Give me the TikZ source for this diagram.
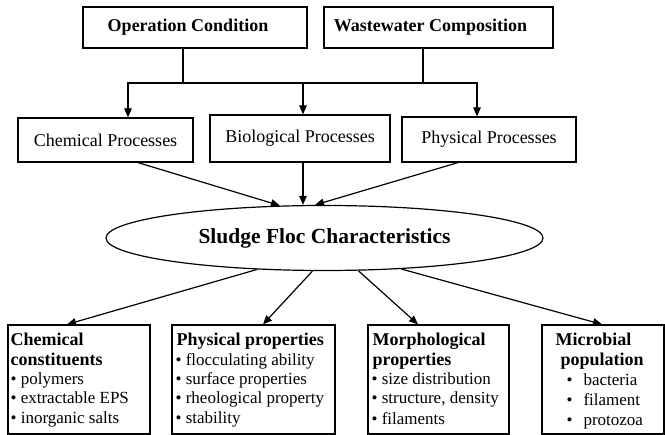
\documentclass[tikz,border=0pt]{standalone}
\usepackage{fontspec}
\setmainfont{Liberation Serif}
\usetikzlibrary{arrows.meta,shapes.geometric}
\begin{document}
\begin{tikzpicture}[x=1pt,y=-1pt,
  line width=1.2pt,
  box/.style={draw, rectangle, inner sep=0pt, fill=white},
  topbox/.style={box, font=\fontsize{18}{20}\selectfont\bfseries, minimum height=41pt},
  procbox/.style={box, font=\fontsize{18}{20}\selectfont},
  propbox/.style={box, minimum height=109pt},
  arr/.style={-{Triangle[length=9pt,width=7.5pt]}},
  head/.style={font=\fontsize{18}{20}\selectfont\bfseries, anchor=base west, inner sep=0pt},
  item/.style={font=\fontsize{17}{19}\selectfont, anchor=base west, inner sep=0pt},
]
\useasboundingbox (0,0) rectangle (665,435);

% driving factors
\node[topbox, minimum width=224pt] (op) at (195,27.5) {Operation Condition\hspace*{14pt}};
\node[topbox, minimum width=229pt] (ww) at (438.5,27.5) {Wastewater Composition\hspace*{16pt}};

% processes
\node[procbox, minimum width=175pt, minimum height=44pt] (chem) at (105.5,140) {Chemical Processes};
\node[procbox, minimum width=180pt, minimum height=47pt] (bio) at (300,138.5) {Biological Processes};
\node[procbox, minimum width=174pt, minimum height=45pt] (phys) at (489,139.5) {Physical Processes};

% central ellipse
\node[draw, ellipse, inner sep=0pt, minimum width=437pt, minimum height=65pt,
      font=\fontsize{21.5}{24}\selectfont\bfseries] (ell) at (324.5,238) {Sludge Floc Characteristics};

% property boxes
\node[propbox, minimum width=142pt] (cc) at (79,379.5) {};
\node[propbox, minimum width=163pt] (pp) at (253.5,379.5) {};
\node[propbox, minimum width=141pt] (mp) at (438.5,379.5) {};
\node[propbox, minimum width=122pt] (mb) at (603,379.5) {};

% texts of the property boxes
\node[head] (cc1) at (10,346) {Chemical};
\node[head] (cc2) at (10,366) {constituents};
\node[item] (cc3) at (10,385) {• polymers};
\node[item] (cc4) at (10,404) {• extractable EPS};
\node[item] (cc5) at (10,424) {• inorganic salts};

\node[head] (pp1) at (176,346) {Physical properties};
\node[item] (pp2) at (175,366) {• flocculating ability};
\node[item] (pp3) at (175,385) {• surface properties};
\node[item] (pp4) at (175,404) {• rheological property};
\node[item] (pp5) at (175,424) {• stability};

\node[head] (mp1) at (372,346) {Morphological};
\node[head] (mp2) at (372,366) {properties};
\node[item] (mp3) at (371,385) {• size distribution};
\node[item] (mp4) at (371,404) {• structure, density};
\node[item] (mp5) at (371,425) {• filaments};

\node[head] (mb1) at (555,346) {Microbial};
\node[head] (mb2) at (560,366) {population};
\node[item] (mb3) at (566,386) {•\hspace{11pt}bacteria};
\node[item] (mb4) at (566,406) {•\hspace{11pt}filament};
\node[item] (mb5) at (566,426) {•\hspace{11pt}protozoa};

% junction lines from the driving factors
\coordinate (opd) at (183,83);
\coordinate (wwd) at (423,83);
\coordinate (bl) at (128,83);
\coordinate (bm) at (303,83);
\coordinate (br) at (477,83);
\draw (op.south -| opd) -- (opd);
\draw (ww.south -| wwd) -- (wwd);
\draw[line cap=rect] (bl) -- (br);
\draw[arr] (bl) -- (bl |- chem.north);
\draw[arr] (bm) -- (bm |- bio.north);
\draw[arr] (br) -- (br |- phys.north);

% processes into the ellipse
\coordinate (cx) at (138,0);
\coordinate (px) at (458,0);
\draw[arr] (chem.south -| cx) -- (ell.144.4);
\draw[arr] (bio.south -| bm) -- (bm |- ell.north);
\draw[arr] (phys.south -| px) -- (ell.106.3);

% ellipse out to the properties
\coordinate (t1) at (67,0);
\coordinate (t2) at (263,0);
\coordinate (t3) at (418,0);
\coordinate (t4) at (602,0);
\draw[arr] (ell.205) -- (cc.north -| t1);
\draw[arr] (ell.250.5) -- (pp.north -| t2);
\draw[arr] (ell.316.2) -- (mp.north -| t3);
\draw[arr] (ell.338.3) -- (mb.north -| t4);
\end{tikzpicture}
\end{document}
